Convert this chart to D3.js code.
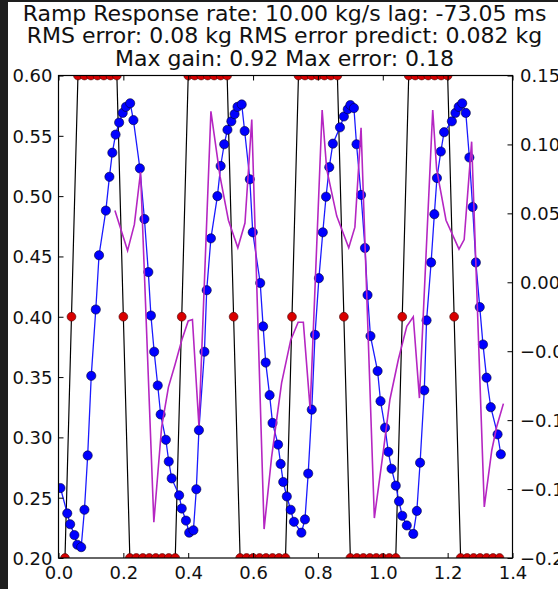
<!DOCTYPE html>
<html>
<head>
<meta charset="utf-8">
<script src="https://cdn.jsdelivr.net/npm/d3@7"></script>
<style>
  html, body { margin: 0; padding: 0; background: #fff; }
  svg { display: block; }
  text { font-family: "DejaVu Sans", sans-serif; }
</style>
</head>
<body>
<script>
// ---------- data ----------
const titleLines = [
  "Ramp Response rate: 10.00 kg/s lag: -73.05 ms",
  "RMS error: 0.08 kg RMS error predict: 0.082 kg",
  "Max gain: 0.92 Max error: 0.18"
];

const xTicks = [0.0, 0.2, 0.4, 0.6, 0.8, 1.0, 1.2, 1.4];
const yLeftTicks = [0.20, 0.25, 0.30, 0.35, 0.40, 0.45, 0.50, 0.55, 0.60];
const yRightTicks = [-0.20, -0.15, -0.10, -0.05, 0.00, 0.05, 0.10, 0.15];

// setpoint (kg) sampled every 0.02 s
const setpointTime = [0.02,0.04,0.06,0.08,0.10,0.12,0.14,0.16,0.18,0.20,0.22,0.24,0.26,0.28,0.30,0.32,0.34,0.36,0.38,0.40,
  0.42,0.44,0.46,0.48,0.50,0.52,0.54,0.56,0.58,0.60,0.62,0.64,0.66,0.68,0.70,0.72,0.74,0.76,0.78,0.80,
  0.82,0.84,0.86,0.88,0.90,0.92,0.94,0.96,0.98,1.00,1.02,1.04,1.06,1.08,1.10,1.12,1.14,1.16,1.18,1.20,
  1.22,1.24,1.26,1.28,1.30,1.32,1.34,1.36];
const setpointValue = [0.2,0.4,0.6,0.6,0.6,0.6,0.6,0.6,0.6,0.4,0.2,0.2,0.2,0.2,0.2,0.2,0.2,0.2,0.4,0.6,
  0.6,0.6,0.6,0.6,0.6,0.6,0.4,0.2,0.2,0.2,0.2,0.2,0.2,0.2,0.2,0.4,0.6,0.6,0.6,0.6,
  0.6,0.6,0.6,0.4,0.2,0.2,0.2,0.2,0.2,0.2,0.2,0.2,0.4,0.6,0.6,0.6,0.6,0.6,0.6,0.6,
  0.4,0.2,0.2,0.2,0.2,0.2,0.2,0.2];

// measured response (kg)
const responseTime = [0.006,0.027,0.036,0.049,0.058,0.070,0.080,0.090,0.101,0.115,0.125,0.146,0.157,0.166,0.176,0.187,0.198,0.208,0.221,0.231,
  0.251,0.265,0.277,0.285,0.295,0.306,0.315,0.331,0.340,0.349,0.372,0.380,0.393,0.403,0.416,0.425,0.433,0.450,0.457,0.470,
  0.490,0.500,0.511,0.521,0.533,0.543,0.552,0.565,0.574,0.590,0.599,0.622,0.631,0.639,0.651,0.660,0.677,0.685,0.693,0.704,
  0.716,0.726,0.749,0.760,0.770,0.781,0.791,0.803,0.815,0.825,0.835,0.846,0.868,0.880,0.892,0.900,0.911,0.919,0.933,0.945,
  0.953,0.962,0.984,0.993,1.007,1.017,1.027,1.040,1.050,1.060,1.074,1.094,1.105,1.115,1.128,1.135,1.149,1.159,1.167,1.179,
  1.189,1.213,1.224,1.234,1.245,1.256,1.267,1.277,1.287,1.299,1.309,1.320,1.333,1.354,1.364];
const responseValue = [0.258,0.237,0.228,0.219,0.211,0.209,0.240,0.285,0.351,0.406,0.451,0.488,0.516,0.536,0.551,0.561,0.569,0.574,0.577,0.563,
  0.523,0.481,0.437,0.401,0.371,0.343,0.319,0.298,0.280,0.266,0.252,0.241,0.231,0.221,0.223,0.257,0.306,0.371,0.422,0.465,
  0.500,0.525,0.543,0.555,0.562,0.568,0.574,0.576,0.554,0.514,0.470,0.428,0.392,0.362,0.335,0.312,0.294,0.278,0.263,0.251,
  0.240,0.230,0.221,0.232,0.270,0.323,0.385,0.432,0.470,0.4995,0.524,0.5435,0.557,0.566,0.572,0.5755,0.573,0.543,0.501,0.457,
  0.418,0.384,0.355,0.330,0.308,0.288,0.274,0.260,0.247,0.235,0.227,0.220,0.239,0.279,0.339,0.397,0.445,0.485,0.515,0.537,
  0.553,0.562,0.569,0.574,0.577,0.569,0.532,0.491,0.445,0.408,0.377,0.3495,0.325,0.3025,0.286];

// error (kg), right axis
const errorTime = [0.174,0.213,0.234,0.253,0.294,0.318,0.339,0.359,0.380,0.400,0.413,0.433,0.470,0.498,0.524,0.553,0.575,0.596,
  0.634,0.657,0.688,0.716,0.739,0.755,0.776,0.813,0.827,0.858,0.895,0.914,0.933,0.974,1.002,1.022,1.048,1.074,1.094,1.113,
  1.154,1.166,1.195,1.235,1.251,1.274,1.313,1.336,1.351,1.372];
const errorValue = [0.052,0.023,0.042,0.080,-0.174,-0.105,-0.076,-0.060,-0.042,-0.028,-0.027,-0.104,0.124,0.077,0.045,0.025,0.043,0.118,
  -0.179,-0.127,-0.073,-0.042,-0.029,-0.029,-0.092,0.125,0.082,0.048,0.025,0.040,0.112,-0.171,-0.122,-0.085,-0.056,-0.032,-0.025,-0.084,
  0.125,0.082,0.045,0.024,0.031,0.102,-0.163,-0.122,-0.105,-0.088];

// ---------- layout ----------
const W = 558, H = 589;
const plot = { left: 58.5, right: 512.5, top: 75.5, bottom: 558 };

const svg = d3.select("body").append("svg").attr("width", W).attr("height", H);

// dark frame remnants
svg.append("rect").attr("x", 0).attr("y", 0).attr("width", W).attr("height", H).attr("fill", "#fff");
svg.append("rect").attr("x", 0).attr("y", 0).attr("width", 8).attr("height", H).attr("fill", "#1e1e1e");
svg.append("rect").attr("x", 0).attr("y", 0).attr("width", W).attr("height", 2).attr("fill", "#1e1e1e");

const x = d3.scaleLinear().domain([0, 1.4]).range([plot.left, plot.right]);
const y = d3.scaleLinear().domain([0.2, 0.6]).range([plot.bottom, plot.top]);
const yR = d3.scaleLinear().domain([-0.2, 0.15]).range([plot.bottom, plot.top]);

svg.append("defs").append("clipPath").attr("id", "clip")
  .append("rect").attr("x", plot.left).attr("y", plot.top)
  .attr("width", plot.right - plot.left).attr("height", plot.bottom - plot.top);

const g = svg.append("g").attr("clip-path", "url(#clip)");

const setpoint = setpointTime.map((t, i) => [t, setpointValue[i]]);
const response = responseTime.map((t, i) => [t, responseValue[i]]);
const errorPts = errorTime.map((t, i) => [t, errorValue[i]]);

g.append("path").datum(setpoint)
  .attr("d", d3.line().x(d => x(d[0])).y(d => y(d[1])))
  .attr("fill", "none").attr("stroke", "#000").attr("stroke-width", 1.2);

g.selectAll("circle.sp").data(setpoint).join("circle").attr("class", "sp")
  .attr("cx", d => x(d[0])).attr("cy", d => y(d[1])).attr("r", 4.4)
  .attr("fill", "#d80000").attr("stroke", "#400").attr("stroke-width", 0.6);

g.append("path").datum(response)
  .attr("d", d3.line().x(d => x(d[0])).y(d => y(d[1])))
  .attr("fill", "none").attr("stroke", "#1a1aff").attr("stroke-width", 1.3);

g.selectAll("circle.rs").data(response).join("circle").attr("class", "rs")
  .attr("cx", d => x(d[0])).attr("cy", d => y(d[1])).attr("r", 4.6)
  .attr("fill", "#0000ff").attr("stroke", "#000033").attr("stroke-width", 0.6);

g.append("path").datum(errorPts)
  .attr("d", d3.line().x(d => x(d[0])).y(d => yR(d[1])))
  .attr("fill", "none").attr("stroke", "#b526c2").attr("stroke-width", 1.6);

// ---------- axes ----------
const fontSize = 18;
function styleAxis(sel) {
  sel.select(".domain").remove();
  sel.selectAll(".tick line").attr("stroke", "#000").attr("stroke-width", 1);
  sel.selectAll(".tick text").attr("font-size", fontSize).attr("fill", "#111")
    .attr("font-family", "DejaVu Sans, sans-serif");
}

const axL = svg.append("g").attr("transform", `translate(${plot.left},0)`)
  .call(d3.axisLeft(y).tickValues(yLeftTicks).tickFormat(d3.format(".2f")).tickSizeInner(-5).tickSizeOuter(0).tickPadding(6));
styleAxis(axL);
axL.selectAll(".tick text").attr("dy", "0.36em");

const axR = svg.append("g").attr("transform", `translate(${plot.right},0)`)
  .call(d3.axisRight(yR).tickValues(yRightTicks).tickFormat(d3.format(".2f")).tickSizeInner(-5).tickSizeOuter(0).tickPadding(7.5));
styleAxis(axR);
axR.selectAll(".tick text").attr("dy", "0.36em");

const axB = svg.append("g").attr("transform", `translate(0,${plot.bottom})`)
  .call(d3.axisBottom(x).tickValues(xTicks).tickFormat(d3.format(".1f")).tickSizeInner(-5).tickSizeOuter(0).tickPadding(8));
styleAxis(axB);
axB.selectAll(".tick text").attr("dy", "0.71em");

const axT = svg.append("g").attr("transform", `translate(0,${plot.top})`)
  .call(d3.axisTop(x).tickValues(xTicks).tickFormat("").tickSizeInner(-5).tickSizeOuter(0));
styleAxis(axT);

// spines
svg.append("rect").attr("x", plot.left).attr("y", plot.top)
  .attr("width", plot.right - plot.left).attr("height", plot.bottom - plot.top)
  .attr("fill", "none").attr("stroke", "#000").attr("stroke-width", 1.2);

// ---------- title ----------
const cx = (plot.left + plot.right) / 2;
svg.append("g").selectAll("text").data(titleLines).join("text")
  .attr("x", cx - 1).attr("y", (d, i) => 21 + i * 22.3)
  .attr("text-anchor", "middle").attr("font-size", 22).attr("fill", "#111")
  .text(d => d);
</script>
</body>
</html>
